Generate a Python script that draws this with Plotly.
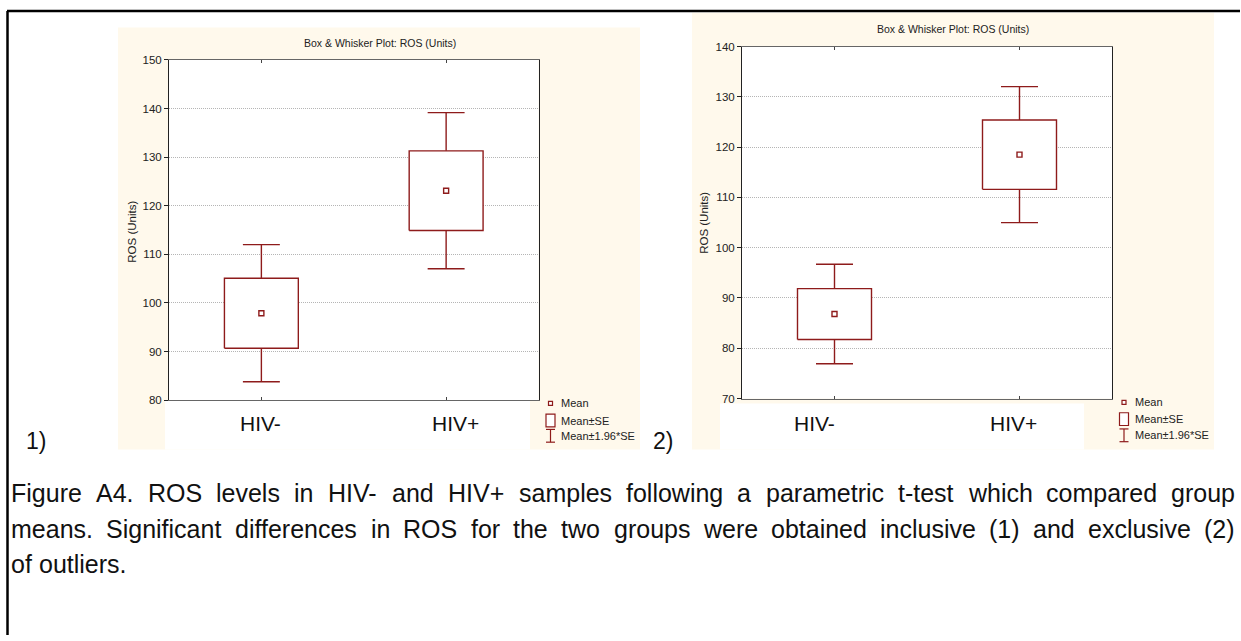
import plotly.graph_objects as go

# ---- data -------------------------------------------------------------
groups = ["HIV-", "HIV+"]
# panel 1: all samples (outliers included)
mean_incl = [97.9, 123.1]
se_incl = [7.2, 8.2]
# panel 2: outliers excluded
mean_excl = [86.8, 118.5]
se_excl = [5.05, 6.9]
z = 1.96

y_ticks_1 = [80, 90, 100, 110, 120, 130, 140, 150]
y_ticks_2 = [70, 80, 90, 100, 110, 120, 130, 140]

chart_title = "Box & Whisker Plot: ROS (Units)"
y_title = "ROS (Units)"
legend_labels = ["Mean", "Mean±SE", "Mean±1.96*SE"]
caption_lines = [
    "Figure A4. ROS levels in HIV- and HIV+ samples following a parametric t-test which compared group",
    "means. Significant differences in ROS for the two groups were obtained inclusive (1) and exclusive (2)",
    "of outliers.",
]

# ---- page geometry (pixels) --------------------------------------------
W, H = 1241, 641
RED = "#8E1B1B"
CREAM = "#FFF9EC"
ARIAL = "Liberation Sans, Arial"

# Arial / Liberation Sans advance widths (1/1000 em) for laying out justified text
_AW = {" ": 278, "(": 333, ")": 333, "+": 584, "-": 333, ".": 278, "*": 389}
_AW.update({d: 556 for d in "0123456789"})
_AW.update(dict(zip("ABCDEFGHIJKLMNOPQRSTUVWXYZ",
                    [667, 667, 722, 722, 667, 611, 778, 722, 278, 500, 667, 556, 833,
                     722, 778, 667, 778, 722, 667, 611, 722, 667, 944, 667, 667, 611])))
_AW.update(dict(zip("abcdefghijklmnopqrstuvwxyz",
                    [556, 556, 500, 556, 556, 278, 556, 556, 222, 222, 500, 222, 833,
                     556, 556, 556, 556, 333, 500, 278, 556, 500, 722, 500, 500, 500])))


def text_width(s, size):
    return sum(_AW.get(c, 556) for c in s) * size / 1000.0


def px(x):
    return x / W


def py(y):
    return 1 - y / H


fig = go.Figure()
shapes = []
annotations = []


def rect(x0, y0, x1, y1, fill, layer="below"):
    shapes.append(dict(type="rect", xref="paper", yref="paper",
                       x0=px(x0), x1=px(x1), y0=py(y1), y1=py(y0),
                       fillcolor=fill, line=dict(color=fill, width=0), layer=layer))


def seg(x0, y0, x1, y1, color, width=1, layer="above"):
    shapes.append(dict(type="line", xref="paper", yref="paper",
                       x0=px(x0), x1=px(x1), y0=py(y0), y1=py(y1),
                       line=dict(color=color, width=width), layer=layer))


def text(x, y, s, size, family=ARIAL, xanchor="center", angle=0, color="#111"):
    annotations.append(dict(xref="paper", yref="paper", x=px(x), y=py(y), text=s,
                            showarrow=False, xanchor=xanchor, yanchor="middle",
                            textangle=angle, font=dict(size=size, family=family, color=color)))


panels = [
    dict(means=mean_incl, ses=se_incl, ticks=y_ticks_1, xa="x", ya="y",
         cream=(118, 22, 640, 452), white=(165, 402.5, 530, 452),
         plot=(169, 55, 538.5, 401.7), title=(380, 38), ylab=(132, 230),
         labshift=[-1, 9], tag=(36, 443, "1)"),
         leg_x=550.5, leg_t=559, leg_y=(405, 422.5, 438)),
    dict(means=mean_excl, ses=se_excl, ticks=y_ticks_2, xa="x2", ya="y2",
         cream=(692, 7, 1214, 452), white=(720, 405, 1084, 452),
         plot=(742, 41.3, 1112, 400), title=(953, 23), ylab=(704, 221),
         labshift=[-20, -6], tag=(663, 443, "2)"),
         leg_x=1124, leg_t=1133, leg_y=(404, 421, 437.5)),
]

for i, p in enumerate(panels):
    n = "" if i == 0 else str(i + 1)
    cx0, cy0, cx1, cy1 = p["cream"]
    rect(cx0, cy0, cx1, cy1, CREAM)
    x0, y0, x1, y1 = p["plot"]
    rect(x0, y0, x1, y1, "white")
    # white strip carrying the category labels (sits over the lowest tick label)
    wx0, wy0, wx1, wy1 = p["white"]
    rect(wx0, wy0, wx1, wy1, "white", layer="above")

    m, s = p["means"], p["ses"]
    hw, cw = 0.2, 0.1  # box half-width, whisker-cap half-width (category units)

    # Mean±SE boxes
    bx, by = [], []
    for k in range(len(groups)):
        lo, hi = m[k] - s[k], m[k] + s[k]
        bx += [k - hw, k + hw, k + hw, k - hw, k - hw, None]
        by += [lo, lo, hi, hi, lo, None]
    fig.add_trace(go.Scatter(x=bx, y=by, mode="lines", fill="toself", fillcolor="white",
                             line=dict(color=RED, width=1.4), xaxis=p["xa"], yaxis=p["ya"],
                             hoverinfo="skip", showlegend=False))

    # Mean±1.96*SE whiskers with caps
    wxs, wys = [], []
    for k in range(len(groups)):
        lo, hi = m[k] - s[k], m[k] + s[k]
        wlo, whi = m[k] - z * s[k], m[k] + z * s[k]
        wxs += [k, k, None, k, k, None, k - cw, k + cw, None, k - cw, k + cw, None]
        wys += [hi, whi, None, lo, wlo, None, whi, whi, None, wlo, wlo, None]
    fig.add_trace(go.Scatter(x=wxs, y=wys, mode="lines", line=dict(color=RED, width=1.4),
                             xaxis=p["xa"], yaxis=p["ya"], hoverinfo="skip", showlegend=False))

    # Mean markers
    fig.add_trace(go.Scatter(x=list(range(len(groups))), y=m, mode="markers",
                             marker=dict(symbol="square-open", size=5, color=RED,
                                         line=dict(width=1.4, color=RED)),
                             xaxis=p["xa"], yaxis=p["ya"], showlegend=False))

    ticks = p["ticks"]
    fig.layout["xaxis" + n] = dict(
        domain=[px(x0), px(x1)], range=[-0.5, 1.5], anchor=p["ya"],
        tickvals=list(range(len(groups))), ticktext=["", ""], ticks="inside", ticklen=3,
        tickcolor="#444", showline=True, linecolor="#666", linewidth=1, mirror="allticks",
        showgrid=False, zeroline=False, fixedrange=True)
    fig.layout["yaxis" + n] = dict(
        domain=[py(y1), py(y0)], range=[ticks[0], ticks[-1]], anchor=p["xa"],
        tickvals=ticks, ticks="outside", ticklen=4, tickcolor="#222",
        tickfont=dict(size=11.5, family=ARIAL, color="#222"),
        showline=True, linecolor="#222", linewidth=1, mirror=True,
        showgrid=True, gridcolor="#B5B5B5", griddash="1px,1px", gridwidth=1,
        zeroline=False, fixedrange=True)

    # chart title and y-axis title
    text(p["title"][0], p["title"][1], chart_title, 10.5, ARIAL, color="#222")
    text(p["ylab"][0], p["ylab"][1], y_title, 11.5, ARIAL, angle=-90, color="#222")

    # category labels
    for k, g in enumerate(groups):
        annotations.append(dict(xref=p["xa"], yref="paper", x=k, y=py(425), text=g,
                                showarrow=False, xshift=p["labshift"][k], yanchor="middle",
                                font=dict(size=21, family=ARIAL, color="#111")))

    # panel tag
    text(p["tag"][0], p["tag"][1], p["tag"][2], 23, ARIAL, color="#111")

    # legend
    lx, lt = p["leg_x"], p["leg_t"]
    ya, yb, yc = p["leg_y"]
    shapes.append(dict(type="rect", xref="paper", yref="paper",
                       x0=px(lx - 2), x1=px(lx + 2), y0=py(ya + 2), y1=py(ya - 2),
                       line=dict(color=RED, width=1.2), fillcolor="white"))
    shapes.append(dict(type="rect", xref="paper", yref="paper",
                       x0=px(lx - 4.5), x1=px(lx + 4.5), y0=py(yb + 6.5), y1=py(yb - 6.5),
                       line=dict(color=RED, width=1.2), fillcolor="white"))
    seg(lx, yc - 6.5, lx, yc + 6.5, RED, 1.2)
    seg(lx - 4.5, yc - 6.5, lx + 4.5, yc - 6.5, RED, 1.2)
    seg(lx - 4.5, yc + 6.5, lx + 4.5, yc + 6.5, RED, 1.2)
    for yy, lab in zip((ya, yb, yc), legend_labels):
        text(lt, yy, lab, 11, ARIAL, xanchor="left", color="#222")

# outer frame (top and left rules)
seg(7, 5, 1240, 5, "black", 2.5)
seg(7.5, 5, 7.5, 641, "black", 2.5)

# caption, justified between the left and right text edges (last line ragged)
CAP_SIZE = 25
CAP_LEFT, CAP_RIGHT = 9, 1233
for li, (yy, line) in enumerate(zip((496, 533, 569), caption_lines)):
    words = line.split(" ")
    last = li == len(caption_lines) - 1
    widths = [text_width(w, CAP_SIZE) for w in words]
    if last or len(words) < 2:
        gap = text_width(" ", CAP_SIZE)
    else:
        gap = (CAP_RIGHT - CAP_LEFT - sum(widths)) / (len(words) - 1)
    xcur = CAP_LEFT
    for w, wd in zip(words, widths):
        text(xcur, yy, w, CAP_SIZE, ARIAL, xanchor="left", color="#111")
        xcur += wd + gap

fig.update_layout(width=W, height=H, margin=dict(l=0, r=0, t=0, b=0),
                  paper_bgcolor="white", plot_bgcolor="rgba(0,0,0,0)",
                  shapes=shapes, annotations=annotations, showlegend=False)

fig.write_html("out.html")
